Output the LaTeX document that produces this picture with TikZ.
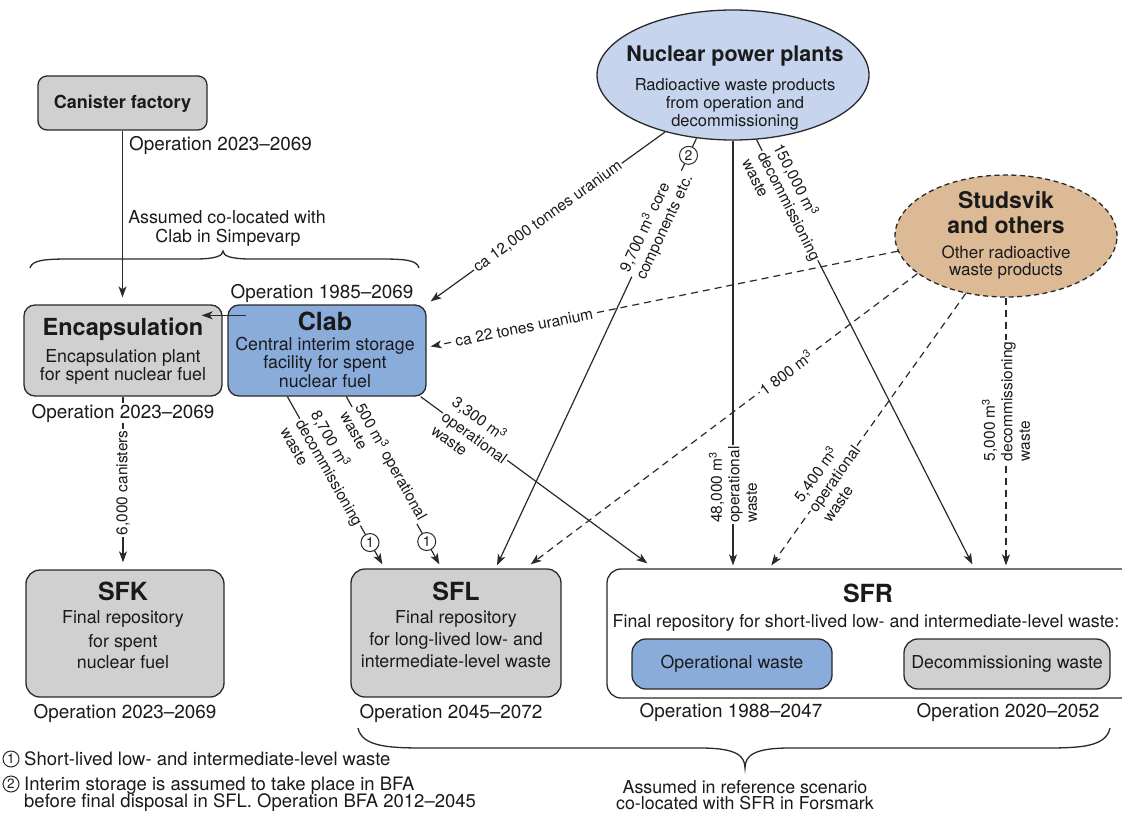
\documentclass[tikz,border=0pt]{standalone}
\usepackage{fontspec}
\setmainfont{TeX Gyre Heros}
\usetikzlibrary{arrows.meta,calc,shapes.geometric}
\definecolor{ink}{HTML}{1A1A1A}
\definecolor{edge}{HTML}{2A2A2A}
\definecolor{boxgray}{HTML}{D0D0D0}
\definecolor{clabblue}{HTML}{8AACDB}
\definecolor{nppblue}{HTML}{C6D4EE}
\definecolor{studtan}{HTML}{DCBA96}
\begin{document}
\begin{tikzpicture}[x=1pt,y=-1pt,
  every node/.style={text=ink},
  gbox/.style={draw=edge, line width=1.3pt, fill=boxgray, rounded corners=11pt, inner sep=0pt},
  bbox/.style={gbox, fill=clabblue},
  txt/.style={anchor=base, inner sep=0pt, font=\fontsize{17.8}{20}\selectfont},
  optxt/.style={anchor=base, inner sep=0pt, font=\fontsize{18.9}{21}\selectfont},
  fntxt/.style={anchor=base west, inner sep=0pt, font=\fontsize{18.5}{21}\selectfont},
  ttl/.style={anchor=base, inner sep=0pt, font=\bfseries\fontsize{25}{28}\selectfont},
  lab/.style={fill=white, inner sep=1.5pt, font=\fontsize{15.5}{17.5}\selectfont},
  num/.style={circle, draw=edge, fill=white, line width=1pt, inner sep=0pt, minimum size=18pt, font=\fontsize{14}{14}\selectfont},
  fnum/.style={num, minimum size=16pt, font=\fontsize{13.5}{14}\selectfont},
  conn/.style={line width=1.2pt, draw=edge, -{Stealth[length=11pt,width=8pt,inset=3pt]}},
  dconn/.style={conn, dash pattern=on 7pt off 5pt},
  brace/.style={line width=1.3pt, draw=edge}
]
\useasboundingbox (0,0) rectangle (1122,816);
\clip (0,0) rectangle (1122,816);

% ---------- boxes ----------
\node[gbox, minimum width=169pt, minimum height=54pt, rounded corners=9pt] (can) at (122.5,103) {};
\node[txt, font=\bfseries\fontsize{18}{20}\selectfont] (canT) at (122.5,108) {Canister factory};

\node[gbox, minimum width=198pt, minimum height=91pt] (enc) at (123,350.5) {};
\node[ttl, font=\bfseries\fontsize{23.5}{26}\selectfont] (encT) at (123,335) {Encapsulation};
\node[txt] (encA) at (123,362) {Encapsulation plant};
\node[txt] (encB) at (123,380) {for spent nuclear fuel};

\node[bbox, minimum width=198pt, minimum height=91pt] (clab) at (327,350.5) {};
\node[ttl] (clabT) at (325,330) {Clab};
\node[txt] (clabA) at (325,350) {Central interim storage};
\node[txt] (clabB) at (325,368) {facility for spent};
\node[txt] (clabC) at (325,387) {nuclear fuel};

\node[gbox, minimum width=198pt, minimum height=127pt, rounded corners=14pt] (sfk) at (125,633.5) {};
\node[ttl] (sfkT) at (123,600) {SFK};
\node[txt] (sfkA) at (123,623) {Final repository};
\node[txt] (sfkB) at (123,647) {for spent};
\node[txt] (sfkC) at (123,668) {nuclear fuel};

\node[gbox, minimum width=210pt, minimum height=128pt, rounded corners=14pt] (sfl) at (456,633) {};
\node[ttl] (sflT) at (456,600) {SFL};
\node[txt] (sflA) at (456,623) {Final repository};
\node[txt] (sflB) at (456,645) {for long-lived low- and};
\node[txt] (sflC) at (456,667) {intermediate-level waste};

\node[draw=edge, line width=1.3pt, rounded corners=14pt, minimum width=540pt, minimum height=129pt, inner sep=0pt] (sfr) at (877,633.5) {};
\node[ttl] (sfrT) at (868,602) {SFR};
\node[txt] (sfrA) at (866,627) {Final repository for short-lived low- and intermediate-level waste:};
\node[bbox, minimum width=200pt, minimum height=50pt, rounded corners=14pt, font=\fontsize{17.8}{20}\selectfont] (opw) at (732,664) {Operational waste};
\node[gbox, minimum width=206pt, minimum height=50pt, rounded corners=14pt, font=\fontsize{17.8}{20}\selectfont] (dcw) at (1007,664) {Decommissioning waste};

\node[ellipse, draw=edge, line width=1.3pt, fill=nppblue, minimum width=272pt, minimum height=130pt, inner sep=0pt] (npp) at (733,75) {};
\node[txt, font=\bfseries\fontsize{21.5}{24}\selectfont] (nppT) at (735,62) {Nuclear power plants};
\node[txt, font=\fontsize{16.5}{18}\selectfont] (nppA) at (735,90) {Radioactive waste products};
\node[txt, font=\fontsize{16.5}{18}\selectfont] (nppB) at (735,108) {from operation and};
\node[txt, font=\fontsize{16.5}{18}\selectfont] (nppC) at (735,126) {decommissioning};

\node[ellipse, draw=edge, line width=1.3pt, dash pattern=on 5pt off 3.5pt, fill=studtan, minimum width=222pt, minimum height=122pt, inner sep=0pt] (stud) at (1006,236) {};
\node[txt, font=\bfseries\fontsize{23}{26}\selectfont] (studT) at (1006,208) {Studsvik};
\node[txt, font=\bfseries\fontsize{23}{26}\selectfont] (studU) at (1006,233) {and others};
\node[txt, font=\fontsize{17}{19}\selectfont] (studA) at (1006,258) {Other radioactive};
\node[txt, font=\fontsize{17}{19}\selectfont] (studB) at (1006,275) {waste products};

% ---------- plain texts ----------
\node[optxt, anchor=base west] (canOp) at (129,150) {Operation 2023–2069};
\node[txt] (asm1) at (227,223) {Assumed co-located with};
\node[txt] (asm2) at (228,242) {Clab in Simpevarp};
\node[optxt] (clabOp) at (322,298) {Operation 1985–2069};
\node[optxt] (sfkOp) at (125,718) {Operation 2023–2069};
\node[optxt] (sflOp) at (451,718) {Operation 2045–2072};
\node[optxt] (opwOp) at (731,717) {Operation 1988–2047};
\node[optxt] (dcwOp) at (1008,717) {Operation 2020–2052};
\node[txt] (fsm1) at (745,793) {Assumed in reference scenario};
\node[txt] (fsm2) at (745,809) {co-located with SFR in Forsmark};

% ---------- braces ----------
\draw[brace] (30,268) .. controls (32,260) and (45,259) .. (70,259) -- (195,259)
  .. controls (215,259) and (223,256) .. (223,251)
  .. controls (223,256) and (231,259) .. (251,259) -- (380,259)
  .. controls (405,259) and (417,260) .. (419,268);
\draw[brace] (358,728) .. controls (362,747) and (390,748) .. (425,748) -- (700,748)
  .. controls (735,748) and (745,755) .. (745,768)
  .. controls (745,755) and (755,748) .. (790,748) -- (1045,748)
  .. controls (1080,748) and (1106,747) .. (1110,728);

% ---------- connectors ----------
\draw[conn] (can.south) -- ($(can.south |- enc.north)+(0,-7)$);
\draw[conn] ($(clab.north west)+(19,11)$) -- ($(enc.north east)+(-21,11)$);
\draw[conn] (enc.south) -- node[lab, rotate=90, pos=0.52] {6,000 canisters} ($(enc.south |- sfk.north)+(0,-7)$);
\node[optxt, fill=white, inner sep=1pt] (encOp) at (123,418) {Operation 2023–2069};

\draw[conn] (npp.220) -- node[lab, sloped, pos=0.5] {ca 12,000 tonnes uranium} ($(clab.north east)+(4,-3)$);
\draw[conn] (npp.240) -- node[num, pos=0.04] {2}
  node[lab, sloped, pos=0.2, align=left] {9,700 m\textsuperscript{3} core\\components etc.}
  ($(sfl.north)+(41,-3)$);
\draw[conn] (npp.south) -- node[lab, rotate=90, pos=0.81, align=left] {48,000 m\textsuperscript{3}\\operational\\waste} ($(npp.south |- sfr.north)+(0,-3)$);
\draw[conn] (npp.290) -- node[lab, sloped, pos=0.155, align=left] {150,000 m\textsuperscript{3}\\decommissioning\\waste} ($(sfr.north west)+(366,-4)$);

\draw[dconn] (stud.188) -- node[lab, sloped, pos=0.8] {ca 22 tones uranium} ($(clab.east)+(4,-4)$);
\draw[dconn] (stud.203) -- node[lab, sloped, pos=0.34] {1 800 m\textsuperscript{3}} ($(sfl.north east)+(-31,-4)$);
\draw[dconn] (stud.235) -- node[lab, sloped, pos=0.68, align=left] {5,400 m\textsuperscript{3}\\operational\\waste} ($(sfr.north west)+(165,-3)$);
\draw[dconn] (stud.south) -- node[lab, rotate=90, pos=0.387, align=left] {5,000 m\textsuperscript{3}\\decommissioning\\waste} ($(stud.south |- sfr.north)+(0,-3)$);

\draw[conn] ($(clab.south west)+(60,0)$) -- node[lab, sloped, pos=0.45, align=left] {8,700 m\textsuperscript{3}\\decommissioning\\waste}
  node[num, pos=0.87] {1} ($(sfl.north west)+(32,-4)$);
\draw[conn] ($(clab.south west)+(119,0)$) -- node[lab, sloped, pos=0.41, align=left] {500 m\textsuperscript{3} operational\\waste}
  node[num, pos=0.864] {1} ($(sfl.north west)+(89,-4)$);
\draw[conn] ($(clab.south east)+(-6,0)$) -- node[lab, sloped, pos=0.24, align=left] {3,300 m\textsuperscript{3}\\operational\\waste} ($(sfr.north west)+(41,-5)$);

% ---------- footnotes ----------
\node[fnum] (fn1c) at (11,759) {1};
\node[fntxt] (fn1) at (24,765) {Short-lived low- and intermediate-level waste};
\node[fnum] (fn2c) at (11,784) {2};
\node[fntxt] (fn2a) at (24,790) {Interim storage is assumed to take place in BFA};
\node[fntxt] (fn2b) at (24,807) {before final disposal in SFL. Operation BFA 2012–2045};
\end{tikzpicture}
\end{document}
